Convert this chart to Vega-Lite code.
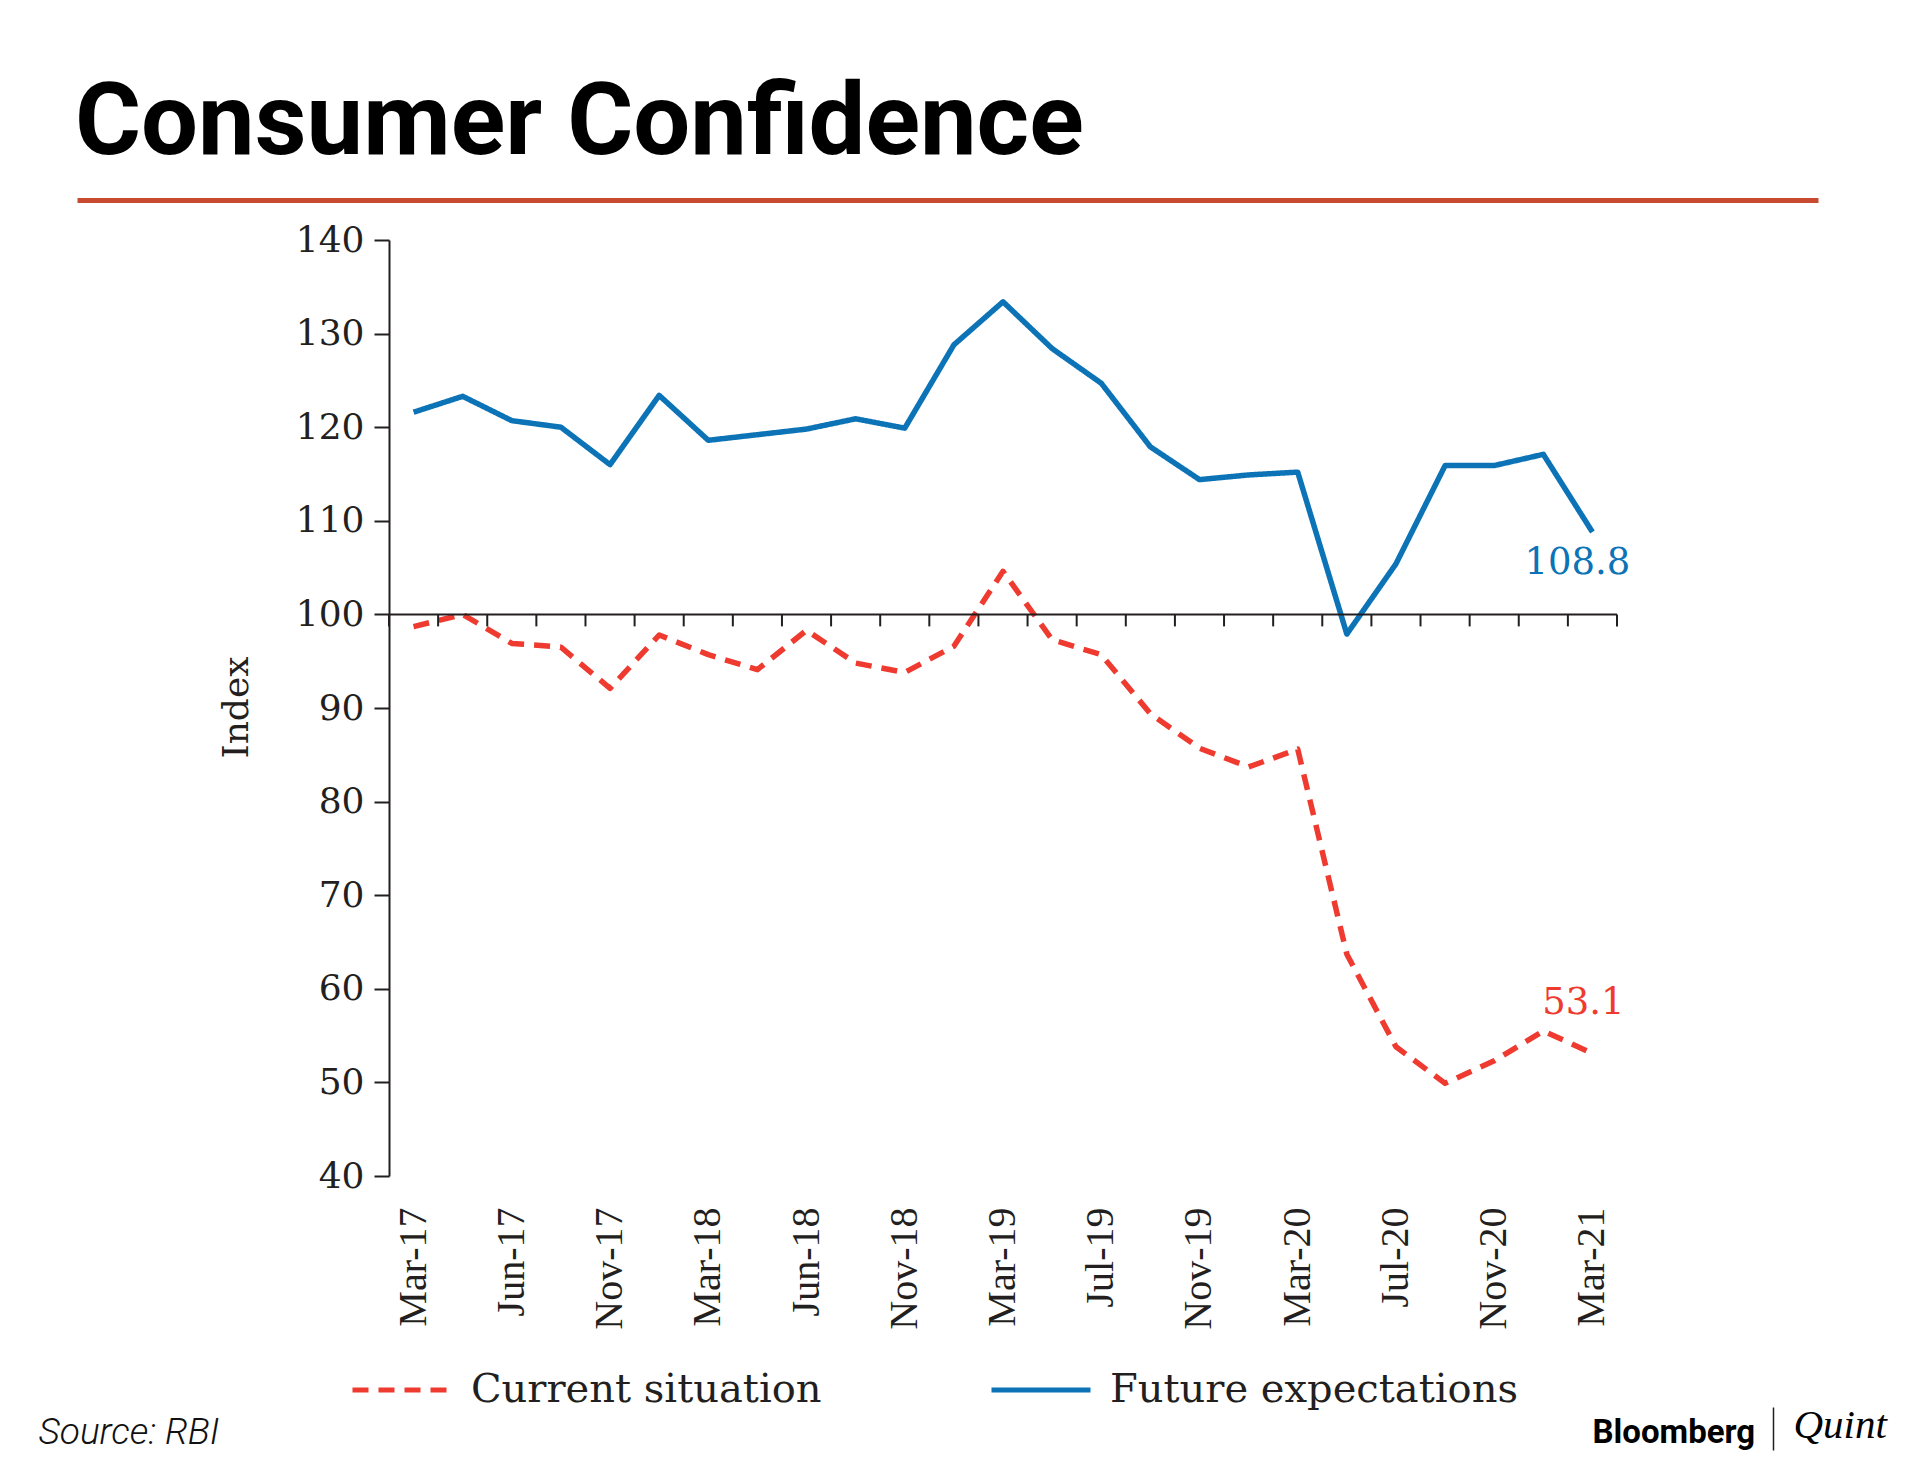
{
  "$schema": "https://vega.github.io/schema/vega-lite/v6.json",
  "width": 1228,
  "height": 936,
  "autosize": {"type": "none"},
  "padding": {"left": 389, "top": 240, "right": 303, "bottom": 285},
  "background": "white",
  "title": {
    "text": "Consumer Confidence",
    "anchor": "start",
    "frame": "group",
    "dx": -314,
    "dy": -15,
    "offset": 10,
    "font": "Roboto",
    "fontSize": 101,
    "fontWeight": "bold",
    "color": "#000000"
  },
  "config": {"view": {"stroke": null}, "axis": {"grid": false}},
  "datasets": {
    "series": [
      {"date": "Mar-17", "series": "Current situation", "value": 98.7},
      {"date": "May-17", "series": "Current situation", "value": 100.0},
      {"date": "Jun-17", "series": "Current situation", "value": 96.9},
      {"date": "Sep-17", "series": "Current situation", "value": 96.5},
      {"date": "Nov-17", "series": "Current situation", "value": 92.1},
      {"date": "Dec-17", "series": "Current situation", "value": 97.8},
      {"date": "Mar-18", "series": "Current situation", "value": 95.7},
      {"date": "Apr-18", "series": "Current situation", "value": 94.1},
      {"date": "Jun-18", "series": "Current situation", "value": 98.3},
      {"date": "Sep-18", "series": "Current situation", "value": 94.8},
      {"date": "Nov-18", "series": "Current situation", "value": 93.8},
      {"date": "Dec-18", "series": "Current situation", "value": 96.6},
      {"date": "Mar-19", "series": "Current situation", "value": 104.6},
      {"date": "May-19", "series": "Current situation", "value": 97.3},
      {"date": "Jul-19", "series": "Current situation", "value": 95.7},
      {"date": "Sep-19", "series": "Current situation", "value": 89.4},
      {"date": "Nov-19", "series": "Current situation", "value": 85.7},
      {"date": "Jan-20", "series": "Current situation", "value": 83.7},
      {"date": "Mar-20", "series": "Current situation", "value": 85.6},
      {"date": "May-20", "series": "Current situation", "value": 63.7},
      {"date": "Jul-20", "series": "Current situation", "value": 53.8},
      {"date": "Sep-20", "series": "Current situation", "value": 49.9},
      {"date": "Nov-20", "series": "Current situation", "value": 52.3},
      {"date": "Jan-21", "series": "Current situation", "value": 55.5},
      {"date": "Mar-21", "series": "Current situation", "value": 53.1},
      {"date": "Mar-17", "series": "Future expectations", "value": 121.6},
      {"date": "May-17", "series": "Future expectations", "value": 123.3},
      {"date": "Jun-17", "series": "Future expectations", "value": 120.7},
      {"date": "Sep-17", "series": "Future expectations", "value": 120.0},
      {"date": "Nov-17", "series": "Future expectations", "value": 116.0},
      {"date": "Dec-17", "series": "Future expectations", "value": 123.4},
      {"date": "Mar-18", "series": "Future expectations", "value": 118.6},
      {"date": "Apr-18", "series": "Future expectations", "value": 119.2},
      {"date": "Jun-18", "series": "Future expectations", "value": 119.8},
      {"date": "Sep-18", "series": "Future expectations", "value": 120.9},
      {"date": "Nov-18", "series": "Future expectations", "value": 119.9},
      {"date": "Dec-18", "series": "Future expectations", "value": 128.8},
      {"date": "Mar-19", "series": "Future expectations", "value": 133.4},
      {"date": "May-19", "series": "Future expectations", "value": 128.4},
      {"date": "Jul-19", "series": "Future expectations", "value": 124.7},
      {"date": "Sep-19", "series": "Future expectations", "value": 117.9},
      {"date": "Nov-19", "series": "Future expectations", "value": 114.4},
      {"date": "Jan-20", "series": "Future expectations", "value": 114.9},
      {"date": "Mar-20", "series": "Future expectations", "value": 115.2},
      {"date": "May-20", "series": "Future expectations", "value": 97.9},
      {"date": "Jul-20", "series": "Future expectations", "value": 105.4},
      {"date": "Sep-20", "series": "Future expectations", "value": 115.9},
      {"date": "Nov-20", "series": "Future expectations", "value": 115.9},
      {"date": "Jan-21", "series": "Future expectations", "value": 117.1},
      {"date": "Mar-21", "series": "Future expectations", "value": 108.8}
    ]
  },
  "layer": [
    {
      "layer": [
        {
          "data": {"name": "series"},
          "mark": {"type": "line", "strokeWidth": 5.5, "strokeJoin": "round"},
          "encoding": {
            "x": {
              "field": "date",
              "type": "ordinal",
              "scale": {"type": "band", "paddingInner": 0, "paddingOuter": 0, "domain": ["Mar-17","May-17","Jun-17","Sep-17","Nov-17","Dec-17","Mar-18","Apr-18","Jun-18","Sep-18","Nov-18","Dec-18","Mar-19","May-19","Jul-19","Sep-19","Nov-19","Jan-20","Mar-20","May-20","Jul-20","Sep-20","Nov-20","Jan-21","Mar-21"]},
              "axis": {
                "orient": "bottom",
                "values": ["Mar-17","Jun-17","Nov-17","Mar-18","Jun-18","Nov-18","Mar-19","Jul-19","Nov-19","Mar-20","Jul-20","Nov-20","Mar-21"],
                "ticks": false,
                "domain": false,
                "labelAngle": -90,
                "labelAlign": "right",
                "labelBaseline": "middle",
                "labelPadding": 31,
                "labelOverlap": false,
                "labelFont": "Liberation Serif",
                "labelFontSize": 40,
                "labelColor": "#231f20",
                "title": "Source: RBI",
                "titleX": -351,
                "titleY": 267,
                "titleAngle": 0,
                "titleAlign": "left",
                "titleBaseline": "alphabetic",
                "titleFont": "Roboto",
                "titleFontStyle": "italic",
                "titleFontWeight": 300,
                "titleFontSize": 37,
                "titleColor": "#111111"
              }
            },
            "y": {
              "field": "value",
              "type": "quantitative",
              "scale": {"domain": [40, 140], "nice": false, "zero": false},
              "axis": {
                "orient": "left",
                "values": [40, 50, 60, 70, 80, 90, 100, 110, 120, 130, 140],
                "domainColor": "#231f20",
                "domainWidth": 2,
                "tickColor": "#231f20",
                "tickWidth": 2,
                "tickSize": 15,
                "labelFont": "DejaVu Serif",
                "labelFontSize": 36,
                "labelColor": "#231f20",
                "labelPadding": 10,
                "title": "Index",
                "titleFont": "DejaVu Serif",
                "titleFontSize": 36,
                "titleFontWeight": "normal",
                "titleColor": "#231f20",
                "titleX": -142,
                "titleY": 467,
                "titleAngle": -90,
                "titleAlign": "center",
                "titleBaseline": "alphabetic"
              }
            },
            "color": {
              "field": "series",
              "type": "nominal",
              "scale": {"domain": ["Current situation", "Future expectations"], "range": ["#ee3a2f", "#0b73b6"]},
              "legend": {
                "orient": "none",
                "legendX": -39,
                "legendY": 1098,
                "direction": "horizontal",
                "title": null,
                "symbolType": "stroke",
                "symbolSize": 9801,
                "symbolStrokeWidth": 5,
                "labelFont": "DejaVu Serif",
                "labelFontSize": 40,
                "labelColor": "#231f20",
                "labelOffset": 17,
                "labelLimit": 0,
                "columnPadding": 159
              }
            },
            "strokeDash": {
              "field": "series",
              "type": "nominal",
              "scale": {"domain": ["Current situation", "Future expectations"], "range": [[16, 10], [1, 0]]}
            }
          }
        },
        {
          "data": {"values": [{}]},
          "mark": {"type": "rule", "color": "#231f20", "strokeWidth": 2},
          "encoding": {"y": {"datum": 100}}
        },
        {
          "data": {"name": "series"},
          "transform": [{"filter": "datum.series === 'Current situation'"}],
          "mark": {"type": "rule", "color": "#231f20", "strokeWidth": 2},
          "encoding": {
            "x": {"field": "date", "type": "ordinal", "bandPosition": 0},
            "y": {"datum": 100},
            "y2": {"datum": 98.72}
          }
        },
        {
          "data": {"name": "series"},
          "transform": [{"filter": "datum.series === 'Current situation' && datum.date === 'Mar-21'"}],
          "mark": {"type": "rule", "color": "#231f20", "strokeWidth": 2},
          "encoding": {
            "x": {"field": "date", "type": "ordinal", "bandPosition": 1},
            "y": {"datum": 100},
            "y2": {"datum": 98.72}
          }
        },
        {
          "data": {"name": "series"},
          "transform": [{"filter": "datum.series === 'Future expectations' && datum.date === 'Mar-21'"}],
          "mark": {"type": "text", "font": "DejaVu Serif", "fontSize": 37, "color": "#0b73b6", "align": "center", "baseline": "alphabetic", "dx": -15, "dy": 42},
          "encoding": {
            "x": {"field": "date", "type": "ordinal"},
            "y": {"field": "value", "type": "quantitative"},
            "text": {"field": "value", "type": "quantitative", "format": ".1f"}
          }
        },
        {
          "data": {"name": "series"},
          "transform": [{"filter": "datum.series === 'Current situation' && datum.date === 'Mar-21'"}],
          "mark": {"type": "text", "font": "DejaVu Serif", "fontSize": 37, "color": "#ee3a2f", "align": "center", "baseline": "alphabetic", "dx": -9, "dy": -39},
          "encoding": {
            "x": {"field": "date", "type": "ordinal"},
            "y": {"field": "value", "type": "quantitative"},
            "text": {"field": "value", "type": "quantitative", "format": ".1f"}
          }
        }
      ]
    },
    {
      "data": {"name": "series"},
      "mark": {"type": "point", "opacity": 0},
      "encoding": {
        "x": {
          "field": "value",
          "type": "quantitative",
          "scale": {"domain": [0, 200], "range": [-312, 1429], "nice": false, "zero": false},
          "axis": {
            "orient": "top",
            "offset": 40,
            "domain": true,
            "domainColor": "#c84b31",
            "domainWidth": 5,
            "ticks": false,
            "labels": false,
            "grid": false,
            "title": "Bloomberg",
            "titleX": 1203,
            "titleY": 1242,
            "titleAngle": 0,
            "titleAlign": "left",
            "titleBaseline": "alphabetic",
            "titleFont": "Roboto",
            "titleFontWeight": "bold",
            "titleFontSize": 33,
            "titleColor": "#000000"
          }
        },
        "y": {
          "field": "value",
          "type": "quantitative",
          "scale": {"domain": [0, 200], "range": [1210, 1167], "nice": false, "zero": false},
          "axis": {
            "orient": "right",
            "offset": 156,
            "domain": true,
            "domainColor": "#231f20",
            "domainWidth": 1.5,
            "ticks": false,
            "labels": false,
            "grid": false,
            "title": "Quint",
            "titleX": 20,
            "titleY": 1197,
            "titleAngle": 0,
            "titleAlign": "left",
            "titleBaseline": "alphabetic",
            "titleFont": "Liberation Serif",
            "titleFontStyle": "italic",
            "titleFontWeight": "normal",
            "titleFontSize": 41,
            "titleColor": "#000000"
          }
        }
      }
    }
  ],
  "resolve": {
    "scale": {"x": "independent", "y": "independent"},
    "axis": {"x": "independent", "y": "independent"}
  }
}
